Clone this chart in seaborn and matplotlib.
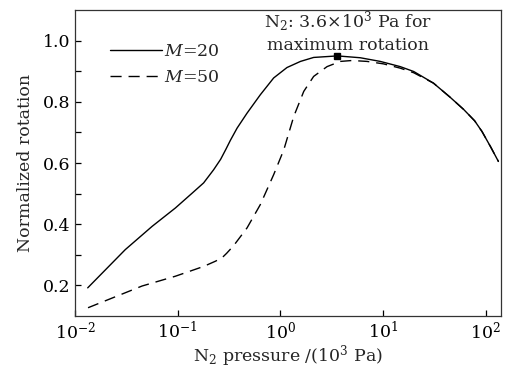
import matplotlib
matplotlib.use("Agg")
import matplotlib.pyplot as plt
import matplotlib.ticker as mticker
import seaborn as sns
import pandas as pd

# ---- data ----
m20_pressure = [0.0133, 0.0309, 0.0564, 0.095, 0.14, 0.179, 0.224, 0.262, 0.295, 0.326,
                0.379, 0.474, 0.638, 0.861, 1.16, 1.57, 2.11, 3.6, 6.0, 9.4, 14.7,
                19.9, 31.0, 45.0, 61.0, 78.0, 92.0, 112.0, 133.0]
m20_rotation = [0.192, 0.317, 0.393, 0.453, 0.503, 0.535, 0.578, 0.612, 0.645, 0.674,
                0.714, 0.763, 0.823, 0.878, 0.912, 0.932, 0.945, 0.950, 0.944, 0.932, 0.915,
                0.899, 0.861, 0.815, 0.775, 0.738, 0.703, 0.652, 0.605]

m50_pressure = [0.0134, 0.045, 0.095, 0.179, 0.233, 0.27, 0.30, 0.351, 0.474, 0.638,
                0.861, 1.08, 1.35, 1.69, 2.11, 2.85, 3.84, 5.0, 7.0, 10.1, 14.7,
                19.9, 31.0, 45.0, 61.0, 78.0, 92.0, 112.0, 133.0]
m50_rotation = [0.127, 0.198, 0.230, 0.262, 0.279, 0.290, 0.305, 0.330, 0.388, 0.464,
                0.562, 0.643, 0.752, 0.834, 0.883, 0.915, 0.932, 0.935, 0.932, 0.924, 0.910,
                0.895, 0.861, 0.815, 0.775, 0.738, 0.703, 0.652, 0.605]

max_point = (3.6, 0.95)
series_labels = ["$M$=20", "$M$=50"]
x_ticks = [1e-2, 1e-1, 1e0, 1e1, 1e2]
y_ticks = [0.2, 0.4, 0.6, 0.8, 1.0]
y_minor = [0.3, 0.5, 0.7, 0.9]

sns.set_style("ticks")
plt.rcParams["font.family"] = ["DejaVu Serif"]
plt.rcParams["mathtext.fontset"] = "dejavuserif"
plt.rcParams["font.size"] = 12.5

fig = plt.figure(figsize=(5.05, 3.68), dpi=100)
ax = fig.add_axes([0.1485, 0.1413, 0.8430, 0.8315])

df20 = pd.DataFrame({"p": m20_pressure, "r": m20_rotation})
df50 = pd.DataFrame({"p": m50_pressure, "r": m50_rotation})
sns.lineplot(data=df20, x="p", y="r", ax=ax, color="black", lw=1.0,
             label=series_labels[0], sort=False)
sns.lineplot(data=df50, x="p", y="r", ax=ax, color="black", lw=1.0,
             label=series_labels[1], sort=False)
ax.lines[1].set_dashes((8, 5))

ax.plot([max_point[0]], [max_point[1]], marker="s", color="black", ms=5, ls="none")

ax.set_xscale("log")
ax.set_xlim(0.01, 140)
ax.set_ylim(0.1, 1.1)
ax.xaxis.set_major_locator(mticker.FixedLocator(x_ticks))
ax.xaxis.set_minor_locator(mticker.NullLocator())
ax.yaxis.set_major_locator(mticker.FixedLocator(y_ticks))
ax.yaxis.set_major_formatter(mticker.FormatStrFormatter("%.1f"))
ax.yaxis.set_minor_locator(mticker.FixedLocator(y_minor))
ax.tick_params(which="both", direction="in", length=4, width=0.9, colors="black",
               labelsize=12.5, top=False, right=False)
for s in ax.spines.values():
    s.set_linewidth(0.9)
    s.set_color("#333333")

ax.set_xlabel("N$_2$ pressure /(10$^3$ Pa)", fontsize=12.5, labelpad=0)
ax.set_ylabel("Normalized rotation", fontsize=12.5, labelpad=6)

ax.text(0.641, 0.962, "N$_2$: 3.6$\\times$10$^3$ Pa for", transform=ax.transAxes,
        ha="center", va="center", fontsize=12.5)
ax.text(0.641, 0.885, "maximum rotation", transform=ax.transAxes,
        ha="center", va="center", fontsize=12.5)

leg = ax.legend(loc="upper left", bbox_to_anchor=(0.065, 0.915), frameon=False,
                handlelength=3.0, handletextpad=0.15, labelspacing=0.5,
                fontsize=12.5, borderaxespad=0)
leg.get_lines()[1].set_dashes((8, 5))

fig.savefig("out.png", dpi=100)
